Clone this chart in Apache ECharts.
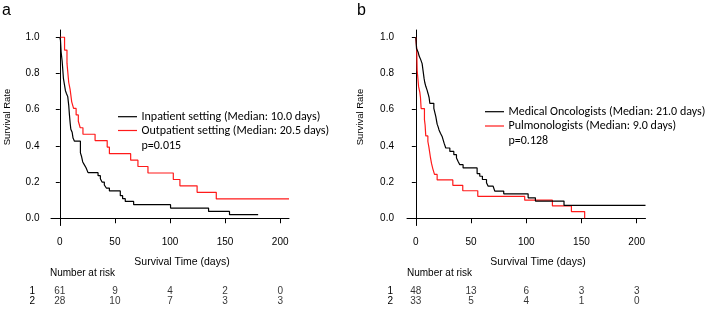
<!DOCTYPE html>
<html><head><meta charset="utf-8">
<script src="https://cdn.jsdelivr.net/npm/echarts@6/dist/echarts.min.js"></script>
<style>html,body{margin:0;padding:0;background:#fff}#c{width:708px;height:310px}</style>
</head><body><div id="c"></div>
<script>
// ---------- data ----------
const xTicks = [0, 50, 100, 150, 200];
const yTicks = [0, 0.2, 0.4, 0.6, 0.8, 1.0];
const riskTimes = [0, 50, 100, 150, 200];
const riskRows = ['1', '2'];

// Panel a: [time (days), survival after event]
const inpatient = [[0,1.0],[0.6,0.984],[1.2,0.918],[2.1,0.869],[2.7,0.820],[3.3,0.771],[4.2,0.738],[5.1,0.705],[6.0,0.689],[7.2,0.672],[8.1,0.623],[8.7,0.574],[9.4,0.525],[10.0,0.492],[11.2,0.475],[12.0,0.443],[13.3,0.426],[18.7,0.361],[19.6,0.344],[20.8,0.311],[22.3,0.295],[23.8,0.279],[25.6,0.252],[34.7,0.235],[36.8,0.218],[38.3,0.200],[40.4,0.184],[42.2,0.167],[45.0,0.151],[54.9,0.125],[57.0,0.108],[59.4,0.093],[67.0,0.075],[100.5,0.056],[135,0.038],[154,0.020],[180,0.020]];
const outpatient = [[0,1.0],[4.3,0.929],[6.5,0.857],[8.1,0.75],[9.3,0.714],[10.8,0.643],[12.5,0.607],[14.8,0.571],[16.8,0.536],[18.5,0.5],[21,0.464],[32,0.429],[43,0.393],[45,0.357],[64.3,0.321],[70.9,0.286],[80,0.25],[103,0.214],[109,0.179],[124.6,0.143],[142,0.107],[208,0.107]];
const riskA1 = [61, 9, 4, 2, 0];
const riskA2 = [28, 10, 7, 3, 3];

// Panel b
const oncologists = [[0,1.0],[0.3,0.979],[0.6,0.938],[2.1,0.917],[3.0,0.896],[4.5,0.875],[5.7,0.854],[6.6,0.813],[7.5,0.771],[8.1,0.75],[9.0,0.729],[10.2,0.708],[11.1,0.688],[12.0,0.667],[12.7,0.635],[16.3,0.607],[18.1,0.561],[19.3,0.52],[20.2,0.505],[21.0,0.488],[22.3,0.47],[23.8,0.452],[25.6,0.415],[27.1,0.388],[30.8,0.369],[34.4,0.351],[36.8,0.333],[38.3,0.314],[39.8,0.296],[42.8,0.278],[55.5,0.247],[57.9,0.232],[60.3,0.214],[64.0,0.196],[65.5,0.177],[70.0,0.168],[71.5,0.15],[79.6,0.135],[101.7,0.113],[108.3,0.095],[134.2,0.071],[208,0.071]];
const pulmonologists = [[0,1.0],[0.3,0.97],[0.8,0.939],[1.2,0.818],[2.5,0.727],[3.6,0.697],[4.2,0.667],[4.8,0.606],[7.8,0.545],[8.4,0.515],[9.0,0.455],[10.9,0.424],[11.8,0.394],[13.3,0.333],[14.2,0.303],[15.4,0.273],[16.9,0.242],[19.3,0.212],[33.5,0.182],[42.5,0.152],[56.1,0.121],[98.6,0.1],[123.7,0.068],[140.9,0.037],[152.9,0]];
const riskB1 = [48, 13, 6, 3, 3];
const riskB2 = [33, 5, 4, 1, 0];

const legendA = ['Inpatient setting (Median: 10.0 days)', 'Outpatient setting (Median: 20.5 days)', 'p=0.015'];
const legendB = ['Medical Oncologists (Median: 21.0 days)', 'Pulmonologists (Median: 9.0 days)', 'p=0.128'];

// ---------- chart ----------
const FONT = '"Liberation Sans", Arial, sans-serif';
const LEG = 'Carlito, Lato, sans-serif';
const RED = '#ff1a1a';
const panels = [
  {left: 51, width: 238, ylabMargin: 11.5, titleX: 182, ytitleX: 7.5, ytitleY: 117, label: 'a', labelX: 2, legX: 118, legY: [116.7, 130.5, 146], legText: legendA, nar: 50, rowMargin: 16},
  {left: 407, width: 238.5, ylabMargin: 13, titleX: 538, ytitleX: 360.5, ytitleY: 117, label: 'b', labelX: 357, legX: 485, legY: [111.7, 126, 140.7], legText: legendB, nar: 407, rowMargin: 14}
];
const grid = [], xAxis = [], yAxis = [], series = [], graphic = [];
panels.forEach((p, i) => {
  grid.push({left: p.left, top: 30, width: p.width, height: 195.5});
  xAxis.push({gridIndex: i, type: 'value', min: -8, max: 208,
    axisLine: {show: true, lineStyle: {color: '#000', width: 1}},
    axisTick: {show: true, customValues: xTicks, length: 5, lineStyle: {color: '#000'}},
    axisLabel: {customValues: xTicks, margin: 12, color: '#000', fontSize: 10, fontFamily: FONT},
    splitLine: {show: false}});
  yAxis.push({gridIndex: i, type: 'value', min: -0.04, max: 1.04,
    axisLine: {show: true, lineStyle: {color: '#000', width: 1}},
    axisTick: {show: true, customValues: yTicks, length: 4, lineStyle: {color: '#000'}},
    axisLabel: {customValues: yTicks, margin: p.ylabMargin, color: '#000', fontSize: 10, fontFamily: FONT, formatter: v => v.toFixed(1)},
    splitLine: {show: false}});
});
panels.forEach((p, i) => {
  grid.push({left: p.left, top: 286.7, width: p.width, height: 20});
  xAxis.push({gridIndex: 2 + i, type: 'value', min: -8, max: 208, show: false});
  yAxis.push({gridIndex: 2 + i, type: 'category', data: riskRows, inverse: true,
    axisLine: {show: false}, axisTick: {show: false}, splitLine: {show: false},
    axisLabel: {interval: 0, margin: p.rowMargin, color: '#000', fontSize: 10, fontFamily: FONT}});
});

function curve(data, idx, color) {
  return {type: 'line', xAxisIndex: idx, yAxisIndex: idx, data: data, step: 'end',
    symbol: 'none', showSymbol: false, lineStyle: {color: color, width: 1.2}, silent: true, z: color === '#000' ? 3 : 2};
}
series.push(curve(inpatient, 0, '#000'), curve(outpatient, 0, RED));
series.push(curve(oncologists, 1, '#000'), curve(pulmonologists, 1, RED));

function riskSeries(vals, row, idx) {
  return {type: 'scatter', xAxisIndex: idx, yAxisIndex: idx, symbolSize: 1, itemStyle: {color: 'rgba(0,0,0,0)'},
    data: vals.map((v, k) => [riskTimes[k], row, v]),
    label: {show: true, position: 'inside', formatter: q => String(q.value[2]), color: '#000', fontSize: 10, fontFamily: FONT}};
}
series.push(riskSeries(riskA1, 0, 2), riskSeries(riskA2, 1, 2), riskSeries(riskB1, 0, 3), riskSeries(riskB2, 1, 3));

panels.forEach((p) => {
  graphic.push({type: 'text', x: p.labelX, y: 11, style: {text: p.label, font: '16px ' + FONT, fill: '#000', verticalAlign: 'middle'}});
  graphic.push({type: 'text', x: p.titleX, y: 262.3, style: {text: 'Survival Time (days)', font: '10.5px ' + FONT, fill: '#000', align: 'center', verticalAlign: 'middle'}});
  graphic.push({type: 'text', x: p.ytitleX, y: p.ytitleY, rotation: Math.PI / 2, style: {text: 'Survival Rate', font: '9.5px ' + FONT, fill: '#000', align: 'center', verticalAlign: 'middle'}});
  graphic.push({type: 'text', x: p.nar, y: 273.5, style: {text: 'Number at risk', font: '10px ' + FONT, fill: '#000', verticalAlign: 'middle'}});
  graphic.push({type: 'line', shape: {x1: p.legX, y1: p.legY[0], x2: p.legX + 19, y2: p.legY[0]}, style: {stroke: '#000', lineWidth: 1.2}});
  graphic.push({type: 'line', shape: {x1: p.legX, y1: p.legY[1], x2: p.legX + 19, y2: p.legY[1]}, style: {stroke: RED, lineWidth: 1.2}});
  p.legText.forEach((t, k) => {
    graphic.push({type: 'text', x: p.legX + 23.5, y: p.legY[k], style: {text: t, font: '12px ' + LEG, fill: '#000', verticalAlign: 'middle'}});
  });
});

const chart = echarts.init(document.getElementById('c'), null, {renderer: 'canvas'});
chart.setOption({animation: false, backgroundColor: '#fff', grid, xAxis, yAxis, series, graphic});
</script></body></html>
